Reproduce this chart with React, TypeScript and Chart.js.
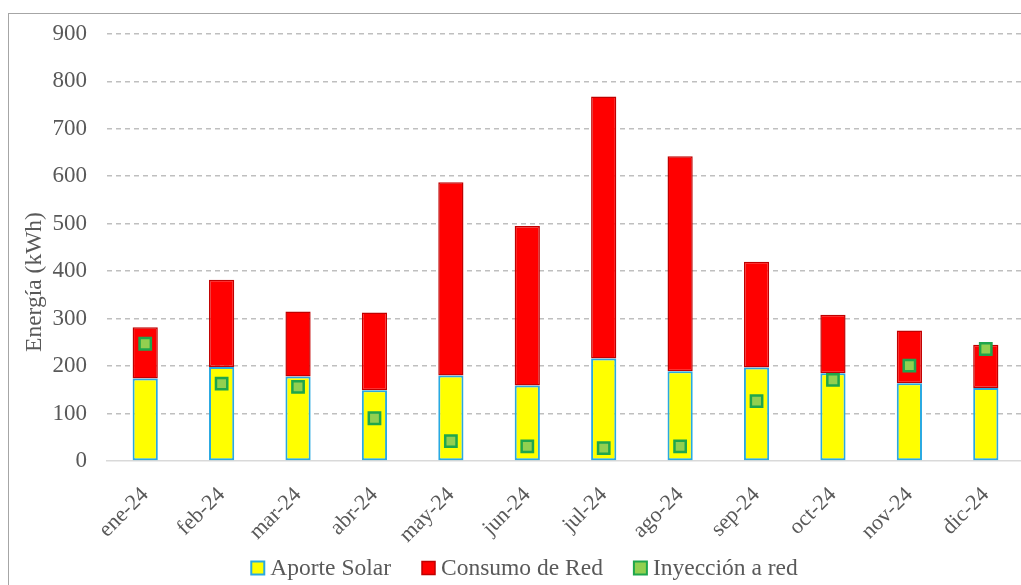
import React, { useEffect, useRef } from "react";
import { Chart, registerables } from "chart.js";

Chart.register(...registerables);

const categories = ["ene-24", "feb-24", "mar-24", "abr-24", "may-24", "jun-24", "jul-24", "ago-24", "sep-24", "oct-24", "nov-24", "dic-24"];
const aporteSolar = [174, 198, 178, 149, 180, 159, 216, 189, 197, 185, 164, 154];
const consumoRed = [108, 184, 137, 164, 407, 336, 552, 453, 223, 123, 111, 91];
const inyeccionRed = [247, 163, 156, 90, 42, 31, 27, 31, 126, 171, 201, 236];
const yTicks = [0, 100, 200, 300, 400, 500, 600, 700, 800, 900];

const FONT = "'Liberation Serif', 'Times New Roman', serif";
const TEXT = "#595959";

const yTitlePlugin = {
  id: "yTitle",
  afterDraw(chart: any) {
    const ctx = chart.ctx;
    ctx.save();
    ctx.translate(27, 282);
    ctx.rotate(-Math.PI / 2);
    ctx.font = `23.5px ${FONT}`;
    ctx.fillStyle = TEXT;
    ctx.textAlign = "center";
    ctx.textBaseline = "middle";
    ctx.fillText("Energía (kWh)", 0, 0);
    ctx.restore();
  },
};

const legendPlugin = {
  id: "customLegend",
  afterDraw(chart: any) {
    const ctx = chart.ctx;
    ctx.save();
    ctx.font = `23.5px ${FONT}`;
    const box = 13;
    const gapText = 6;
    const gapItem = 31;
    const ds = chart.data.datasets;
    const widths = ds.map((d: any) => box + gapText + ctx.measureText(d.label).width);
    const total = widths.reduce((a: number, b: number) => a + b, 0) + gapItem * (ds.length - 1);
    let x = chart.width / 2 - total / 2;
    const cy = 568;
    ds.forEach((d: any, i: number) => {
      ctx.fillStyle = d.backgroundColor;
      ctx.strokeStyle = d.borderColor;
      ctx.lineWidth = Math.min(d.borderWidth, 2);
      ctx.fillRect(x, cy - box / 2, box, box);
      ctx.strokeRect(x, cy - box / 2, box, box);
      ctx.fillStyle = TEXT;
      ctx.textAlign = "left";
      ctx.textBaseline = "middle";
      ctx.fillText(d.label, x + box + gapText, cy + 1);
      x += widths[i] + gapItem;
    });
    ctx.restore();
  },
};

export default function App() {
  const ref = useRef<HTMLCanvasElement | null>(null);
  useEffect(() => {
    if (!ref.current) return;
    const chart = new Chart(ref.current, {
      type: "bar",
      data: {
        labels: categories,
        datasets: [
          {
            type: "bar",
            label: "Aporte Solar",
            data: aporteSolar,
            backgroundColor: "#FFFF00",
            borderColor: "#29A9E1",
            borderWidth: 2,
            borderSkipped: false,
            order: 1,
            stack: "s",
          },
          {
            type: "bar",
            label: "Consumo de Red",
            data: consumoRed,
            backgroundColor: "#FF0000",
            borderColor: "#C00000",
            borderWidth: 1.5,
            borderSkipped: false,
            order: 2,
            stack: "s",
          },
          {
            type: "line",
            label: "Inyección a red",
            data: inyeccionRed,
            showLine: false,
            pointStyle: "rect",
            pointRadius: 8,
            pointHoverRadius: 8,
            pointBorderWidth: 2.5,
            borderWidth: 2.5,
            backgroundColor: "#92D050",
            borderColor: "#1FA64C",
            pointBackgroundColor: "#92D050",
            pointBorderColor: "#1FA64C",
            order: 0,
          } as any,
        ],
      },
      options: {
        responsive: false,
        animation: false,
        devicePixelRatio: 1,
        layout: { padding: { top: 32, left: 0, right: 0, bottom: 53 } },
        datasets: { bar: { categoryPercentage: 1, barPercentage: 0.33 } } as any,
        plugins: {
          legend: { display: false },
          tooltip: { enabled: false },
        },
        scales: {
          x: {
            stacked: true,
            grid: { display: false },
            border: { display: true, color: "#D9D9D9", width: 1.5 },
            ticks: {
              font: { family: FONT, size: 22 },
              color: TEXT,
              maxRotation: 45,
              minRotation: 45,
              padding: 13,
            },
            afterFit: (s: any) => { s.height = 86; },
          },
          y: {
            stacked: true,
            min: 0,
            max: 900,
            afterBuildTicks: (s: any) => { s.ticks = yTicks.map((v) => ({ value: v })); },
            grid: {
              drawTicks: false,
              color: (c: any) => (c.tick && c.tick.value === 0 ? "rgba(0,0,0,0)" : "#BFBFBF"),
              lineWidth: 1.5,
            },
            border: { display: false, dash: [5, 4] },
            ticks: {
              font: { family: FONT, size: 23 },
              color: TEXT,
              padding: 20,
            },
            afterFit: (s: any) => { s.width = 99; },
          },
          y2: {
            position: "right",
            display: true,
            grid: { display: false },
            border: { display: false },
            ticks: { display: false },
            afterFit: (s: any) => { s.width = 17; },
          },
        },
      },
      plugins: [yTitlePlugin, legendPlugin],
    });
    return () => chart.destroy();
  }, []);

  return (
    <div style={{ position: "fixed", left: 0, top: 0, width: 1021, height: 585, overflow: "hidden", background: "#fff" }}>
      <div style={{ position: "absolute", left: 8, top: 13, width: 1100, height: 700, borderLeft: "1px solid #A6A6A6", borderTop: "1px solid #A6A6A6" }} />
      <canvas ref={ref} width={1033} height={600} style={{ position: "absolute", left: 8, top: 0, width: 1033, height: 600 }} />
    </div>
  );
}
